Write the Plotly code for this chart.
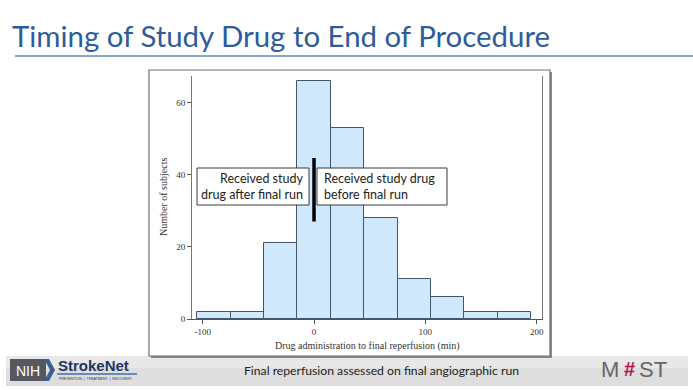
import plotly.graph_objects as go

# ---- data ----
bin_edges = [-105, -75, -45, -15, 15, 45, 75, 105, 135, 165, 195]
counts = [2, 2, 21, 66, 53, 28, 11, 6, 2, 2]
x_tick_vals = [-100, 0, 100, 200]
x_tick_text = ["-100", "0", "100", "200"]
y_tick_vals = [0, 20, 40, 60]
y_tick_text = ["0", "20", "40", "60"]
title_text = "Timing of Study Drug to End of Procedure"
x_title = "Drug administration to final reperfusion (min)"
y_title = "Number of subjects"
left_label = ["Received study", "drug after final run"]
right_label = ["Received study drug", "before final run"]
marker_x = 0
marker_y = [27, 44.6]
footer_text = "Final reperfusion assessed on final angiographic run"

W, H = 693, 390
centers = [(a + b) / 2 for a, b in zip(bin_edges[:-1], bin_edges[1:])]
widths = [b - a for a, b in zip(bin_edges[:-1], bin_edges[1:])]

def px(x):
    return x / W

def py(y):
    return 1 - y / H

fig = go.Figure()
fig.add_trace(go.Bar(
    x=centers, y=counts, width=widths,
    marker=dict(color="#CFE8FB", line=dict(color="#44556A", width=1)),
    hoverinfo="x+y", showlegend=False,
))

serif = "Liberation Serif"
shapes = []
annotations = []

# footer banner
shapes.append(dict(type="rect", xref="paper", yref="paper",
                   x0=px(6), x1=px(688), y0=py(386), y1=py(356),
                   fillcolor="#dedede", line=dict(width=0), layer="below"))
shapes.append(dict(type="rect", xref="paper", yref="paper",
                   x0=px(6), x1=px(688), y0=py(368), y1=py(356),
                   fillcolor="#e8e8e8", line=dict(width=0), layer="below"))
# outer chart frame (shadow + frame)
shapes.append(dict(type="rect", xref="paper", yref="paper",
                   x0=px(151), x1=px(552), y0=py(358), y1=py(72),
                   fillcolor="#8a8a8a", line=dict(width=0), layer="below"))
shapes.append(dict(type="rect", xref="paper", yref="paper",
                   x0=px(149), x1=px(550), y0=py(356), y1=py(70),
                   fillcolor="white", line=dict(color="#6e6e6e", width=1.2), layer="below"))
# title underline
shapes.append(dict(type="line", xref="paper", yref="paper",
                   x0=px(15), x1=px(693), y0=py(56), y1=py(56),
                   line=dict(color="#5B8AC0", width=1.5)))

# label boxes
shapes.append(dict(type="rect", xref="paper", yref="paper",
                   x0=px(197), x1=px(309), y0=py(205), y1=py(168),
                   fillcolor="white", line=dict(color="#3a3a3a", width=1)))
shapes.append(dict(type="rect", xref="paper", yref="paper",
                   x0=px(317), x1=px(447), y0=py(205), y1=py(168),
                   fillcolor="white", line=dict(color="#3a3a3a", width=1)))
# vertical marker at time 0
shapes.append(dict(type="line", xref="x", yref="y",
                   x0=marker_x, x1=marker_x, y0=marker_y[0], y1=marker_y[1],
                   line=dict(color="black", width=3.5)))

lab_font = dict(family="Lato", size=12.5, color="#222222")
annotations.append(dict(xref="paper", yref="paper", x=px(305), y=py(186.5),
                        text="<br>".join(left_label), showarrow=False, align="right",
                        xanchor="right", yanchor="middle", font=lab_font))
annotations.append(dict(xref="paper", yref="paper", x=px(322), y=py(186.5),
                        text="<br>".join(right_label), showarrow=False, align="left",
                        xanchor="left", yanchor="middle", font=lab_font))

# axis titles
annotations.append(dict(xref="paper", yref="paper", x=px(367), y=py(346),
                        text=x_title, showarrow=False, xanchor="center", yanchor="middle",
                        font=dict(family=serif, size=10, color="#333")))
annotations.append(dict(xref="paper", yref="paper", x=px(163), y=py(197),
                        text=y_title, showarrow=False, textangle=-90,
                        xanchor="center", yanchor="middle",
                        font=dict(family=serif, size=10, color="#333")))

# slide title
annotations.append(dict(xref="paper", yref="paper", x=px(10), y=py(35),
                        text=title_text, showarrow=False, xanchor="left", yanchor="middle",
                        font=dict(family="Lato", size=29.4, color="#2E5C9A")))

# footer text
annotations.append(dict(xref="paper", yref="paper", x=px(382), y=py(370),
                        text=footer_text, showarrow=False, xanchor="center", yanchor="middle",
                        font=dict(family="Lato", size=12.2, color="#222222")))

# NIH StrokeNet logo
shapes.append(dict(type="rect", xref="paper", yref="paper",
                   x0=px(10), x1=px(46), y0=py(381), y1=py(359),
                   fillcolor="#55595f", line=dict(width=0)))
shapes.append(dict(type="path", xref="paper", yref="paper",
                   path=f"M {px(44)},{py(359)} L {px(49)},{py(359)} L {px(55)},{py(370)} L {px(49)},{py(381)} L {px(44)},{py(381)} L {px(50)},{py(370)} Z",
                   fillcolor="#3c5f93", line=dict(width=0)))
annotations.append(dict(xref="paper", yref="paper", x=px(28), y=py(370.5),
                        text="NIH", showarrow=False, xanchor="center", yanchor="middle",
                        font=dict(family="Liberation Sans", size=14, color="white")))
annotations.append(dict(xref="paper", yref="paper", x=px(56), y=py(365),
                        text="<b>StrokeNet</b>", showarrow=False, xanchor="left", yanchor="middle",
                        font=dict(family="Liberation Sans", size=15, color="#1d3563")))
shapes.append(dict(type="line", xref="paper", yref="paper",
                   x0=px(57), x1=px(137), y0=py(374), y1=py(374),
                   line=dict(color="#3c6fb0", width=1.5)))
annotations.append(dict(xref="paper", yref="paper", x=px(57), y=py(378.5),
                        text="PREVENTION  |  TREATMENT  |  RECOVERY", showarrow=False,
                        xanchor="left", yanchor="middle",
                        font=dict(family="Liberation Sans", size=3.5, color="#333")))

# MOST logo
annotations.append(dict(xref="paper", yref="paper", x=px(621), y=py(369),
                        text="M", showarrow=False, xanchor="right", yanchor="middle",
                        font=dict(family="Liberation Sans", size=22, color="#666")))
annotations.append(dict(xref="paper", yref="paper", x=px(629), y=py(369),
                        text="<b>#</b>", showarrow=False, xanchor="center", yanchor="middle",
                        font=dict(family="Liberation Sans", size=20, color="#b0174f")))
annotations.append(dict(xref="paper", yref="paper", x=px(637), y=py(369),
                        text="ST", showarrow=False, xanchor="left", yanchor="middle",
                        font=dict(family="Liberation Sans", size=22, color="#666")))

fig.update_layout(
    width=W, height=H,
    margin=dict(l=0, r=0, t=0, b=0),
    paper_bgcolor="white", plot_bgcolor="white",
    bargap=0, showlegend=False,
    shapes=shapes, annotations=annotations,
    xaxis=dict(domain=[px(192), px(541.7)], range=[-109.6, 204.5],
               tickvals=x_tick_vals, ticktext=x_tick_text,
               showline=True, linecolor="#555", linewidth=1,
               ticks="outside", ticklen=4, tickcolor="#555",
               showgrid=False, zeroline=False,
               tickfont=dict(family=serif, size=9, color="#333"), automargin=False),
    yaxis=dict(domain=[py(319), py(76)], range=[0, 67.3],
               tickvals=y_tick_vals, ticktext=y_tick_text,
               showline=True, linecolor="#777", linewidth=1, mirror=True,
               ticks="outside", ticklen=4, tickcolor="#555",
               showgrid=False, zeroline=False,
               tickfont=dict(family=serif, size=9, color="#333"), automargin=False),
)

fig.write_html("out.html", config={"displayModeBar": False},
               post_script="document.body.style.margin='0px';")
